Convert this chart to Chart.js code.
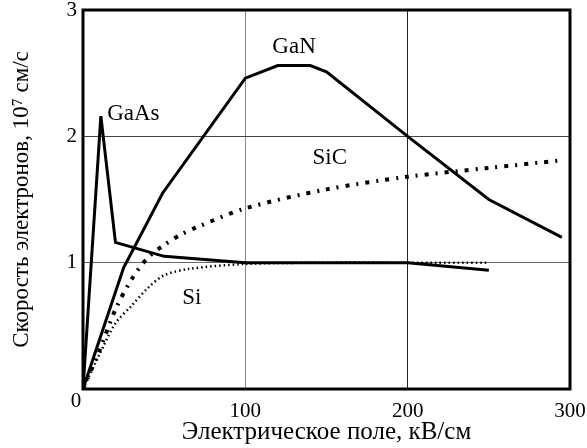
<!DOCTYPE html>
<html>
<head>
<meta charset="utf-8">
<script src="https://cdn.jsdelivr.net/npm/chart.js@4"></script>
<style>
  html, body { margin: 0; padding: 0; background: #fff; }
  #wrap { width: 587px; height: 448px; }
</style>
</head>
<body>
<div id="wrap"><canvas id="myChart"></canvas></div>
<script>
// field, kV/cm and drift velocity, 10^7 cm/s
const gaasX = [0, 11, 20, 50, 100, 200, 250];
const gaasY = [0, 2.16, 1.16, 1.05, 1.0, 1.0, 0.94];

const ganX = [0, 25, 49, 100, 120, 140, 150, 200, 250, 295];
const ganY = [0, 0.96, 1.55, 2.46, 2.56, 2.56, 2.51, 2.0, 1.5, 1.2];

const sicX = [0, 10, 20, 30, 40, 50, 60, 70, 100, 150, 200, 250, 295];
const sicY = [0, 0.3, 0.63, 0.87, 1.04, 1.14, 1.22, 1.28, 1.43, 1.58, 1.68, 1.75, 1.81];

const siX = [0, 10, 20, 30, 40, 50, 65, 100, 150, 200, 250];
const siY = [0, 0.27, 0.52, 0.66, 0.8, 0.9, 0.95, 0.99, 1.0, 1.0, 1.0];

const curveNames = ['GaAs', 'GaN', 'SiC', 'Si'];
// where each name sits, in data units
const nameX = [31, 130, 152, 67];
const nameY = [2.18, 2.71, 1.83, 0.72];

const xTicks = [0, 100, 200, 300];
const yTicks = [0, 1, 2, 3];

function pts(xs, ys) {
  return xs.map((x, i) => ({ x: x, y: ys[i] }));
}

const serif = "'Liberation Serif', 'Times New Roman', serif";

const decor = {
  id: 'decor',
  afterDatasetsDraw(chart) {
    const c = chart.ctx;
    const a = chart.chartArea;
    const sx = chart.scales.x;
    const sy = chart.scales.y;
    c.save();
    c.strokeStyle = '#000';
    c.lineWidth = 3;
    c.strokeRect(a.left, a.top, a.right - a.left, a.bottom - a.top);
    c.fillStyle = '#000';
    c.font = '23px ' + serif;
    c.textAlign = 'center';
    c.textBaseline = 'middle';
    for (let i = 0; i < curveNames.length; i++) {
      c.fillText(curveNames[i], sx.getPixelForValue(nameX[i]), sy.getPixelForValue(nameY[i]));
    }
    c.font = '21px ' + serif;
    c.fillText('0', a.left - 7, a.bottom + 12);
    c.restore();
  }
};

const ctx = document.getElementById('myChart').getContext('2d');
new Chart(ctx, {
  type: 'line',
  data: {
    datasets: [
      {
        label: 'GaAs',
        data: pts(gaasX, gaasY),
        borderColor: '#000',
        borderWidth: 3,
        pointRadius: 0,
        tension: 0
      },
      {
        label: 'GaN',
        data: pts(ganX, ganY),
        borderColor: '#000',
        borderWidth: 3,
        pointRadius: 0,
        tension: 0
      },
      {
        label: 'SiC',
        data: pts(sicX, sicY),
        borderColor: '#000',
        borderWidth: 4,
        borderDash: [4, 7, 2, 7],
        pointRadius: 0,
        tension: 0.3
      },
      {
        label: 'Si',
        data: pts(siX, siY),
        borderColor: '#000',
        borderWidth: 2.5,
        borderDash: [1.5, 3],
        pointRadius: 0,
        tension: 0.3
      }
    ]
  },
  options: {
    responsive: true,
    maintainAspectRatio: false,
    animation: false,
    layout: { padding: { top: 10, right: 17, left: 0, bottom: 0 } },
    plugins: {
      legend: { display: false },
      tooltip: { enabled: false }
    },
    scales: {
      x: {
        type: 'linear',
        min: 0,
        max: 300,
        afterBuildTicks: (s) => { s.ticks = xTicks.map(v => ({ value: v })); },
        afterFit: (s) => { s.height = 59; s.paddingLeft = 0; s.paddingRight = 0; },
        ticks: {
          color: '#000',
          padding: 10,
          font: { family: serif, size: 21 },
          callback: (v) => (v === 0 ? '' : v)
        },
        grid: {
          drawTicks: false,
          lineWidth: 1,
          color: (c) => (c.tick.value === 100 ? '#8a8a8a' : c.tick.value === 200 ? '#222' : 'rgba(0,0,0,0)')
        },
        border: { display: false },
        title: {
          display: true,
          text: 'Электрическое поле, кВ/см',
          color: '#000',
          font: { family: serif, size: 25 },
          padding: { top: 0, bottom: 1 }
        }
      },
      y: {
        type: 'linear',
        min: 0,
        max: 3,
        afterBuildTicks: (s) => { s.ticks = yTicks.map(v => ({ value: v })); },
        afterFit: (s) => { s.width = 83; s.paddingTop = 0; s.paddingBottom = 0; },
        ticks: {
          color: '#000',
          padding: 6,
          font: { family: serif, size: 21 },
          callback: (v) => (v === 0 ? '' : v)
        },
        grid: {
          drawTicks: false,
          lineWidth: 1,
          color: (c) => (c.tick.value === 1 ? '#666' : c.tick.value === 2 ? '#444' : 'rgba(0,0,0,0)')
        },
        border: { display: false },
        title: {
          display: true,
          text: 'Скорость электронов, 10⁷ см/с',
          color: '#000',
          font: { family: serif, size: 23 },
          padding: { top: 8, bottom: 0 }
        }
      }
    }
  },
  plugins: [decor]
});
</script>
</body>
</html>
